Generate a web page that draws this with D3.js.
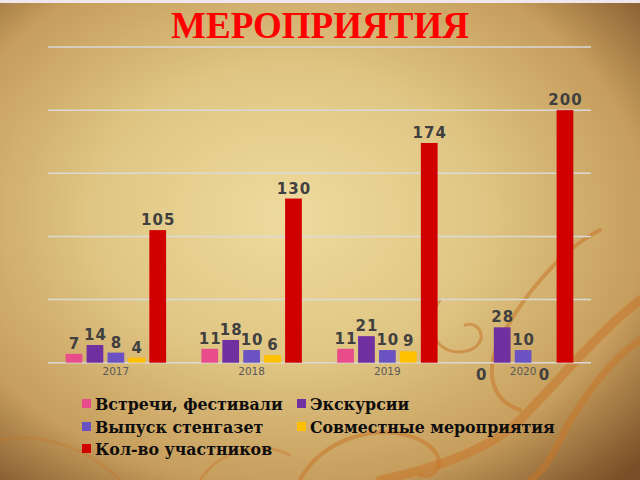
<!DOCTYPE html>
<html><head><meta charset="utf-8">
<script src="https://cdn.jsdelivr.net/npm/d3@7"></script>
<style>html,body{margin:0;padding:0;overflow:hidden;background:#c9a262}</style>
</head><body>
<svg id="c" width="640" height="480"></svg>
<script>
const categories = ["2017", "2018", "2019", "2020"];
const seriesNames = ["Встречи, фестивали", "Экскурсии", "Выпуск стенгазет", "Совместные мероприятия", "Кол-во участников"];
const vstrechi = [7, 11, 11, 0];
const ekskursii = [14, 18, 21, 28];
const stengazety = [8, 10, 10, 10];
const sovmestnye = [4, 6, 9, 0];
const uchastniki = [105, 130, 174, 200];
const yTicks = [0, 50, 100, 150, 200, 250];
const colors = ["#E84C8A", "#7030A0", "#6A52C2", "#FFC000", "#D00000"];
const title = "МЕРОПРИЯТИЯ";

const seriesValues = [vstrechi, ekskursii, stengazety, sovmestnye, uchastniki];
const svg = d3.select("#c");
const defs = svg.append("defs");
const rg = defs.append("radialGradient").attr("id", "bg").attr("cx", "45%").attr("cy", "45%").attr("r", "75%");
rg.append("stop").attr("offset", "0%").attr("stop-color", "#eedb9e");
rg.append("stop").attr("offset", "40%").attr("stop-color", "#e0c684");
rg.append("stop").attr("offset", "75%").attr("stop-color", "#c69d5c");
rg.append("stop").attr("offset", "100%").attr("stop-color", "#7a5028");
svg.append("rect").attr("width", 640).attr("height", 480).attr("fill", "url(#bg)");
svg.append("rect").attr("width", 640).attr("height", 3).attr("fill", "#efe6ee");

const sw = svg.append("g").attr("fill", "none").attr("stroke", "#c7762a").attr("stroke-opacity", 0.55).attr("stroke-linecap", "round");
sw.append("path").attr("d", "M640,300 C600,330 560,380 520,420 C490,450 430,470 380,480").attr("stroke-width", 9);
sw.append("path").attr("d", "M640,340 C610,360 580,400 560,440 C550,460 540,475 530,480").attr("stroke-width", 7);
sw.append("path").attr("d", "M600,230 C560,250 520,300 500,340 C485,370 490,400 520,410").attr("stroke-width", 4);
sw.append("path").attr("d", "M440,300 C420,330 440,360 470,350 C490,342 480,320 465,325").attr("stroke-width", 3);
sw.append("path").attr("d", "M300,480 C320,440 380,420 420,440 C450,455 440,480 420,475").attr("stroke-width", 4);
sw.append("path").attr("d", "M0,440 C40,430 90,450 120,480").attr("stroke-width", 3).attr("stroke-opacity", 0.35);
sw.append("path").attr("d", "M200,480 C220,450 260,440 290,455").attr("stroke-width", 3).attr("stroke-opacity", 0.4);

const plotLeft = 48, plotRight = 591, plotTop = 47, plotBottom = 362.7;
const x0 = d3.scaleBand().domain(categories).range([plotLeft, plotRight]).paddingInner(0.26).paddingOuter(0.13);
const x1 = d3.scaleBand().domain(d3.range(5)).range([0, x0.bandwidth()]).paddingInner(0.2);
const y = d3.scaleLinear().domain([0, 250]).range([plotBottom, plotTop]);

svg.append("g").selectAll("line").data(yTicks).join("line")
  .attr("x1", plotLeft).attr("x2", plotRight).attr("y1", d => y(d)).attr("y2", d => y(d))
  .attr("stroke", "#d9d9d9").attr("stroke-width", 1.5);

svg.append("text").attr("x", 320).attr("y", 38).attr("text-anchor", "middle")
  .attr("font-family", "Liberation Serif, serif").attr("font-weight", "bold").attr("font-size", 37)
  .attr("fill", "#FF0000").text(title);

const data = [];
categories.forEach((c, i) => seriesValues.forEach((vals, s) => data.push({c, s, v: vals[i]})));
svg.append("g").selectAll("rect").data(data).join("rect")
  .attr("x", d => x0(d.c) + x1(d.s)).attr("width", x1.bandwidth())
  .attr("y", d => y(d.v)).attr("height", d => y(0) - y(d.v))
  .attr("fill", d => colors[d.s]);

svg.append("g").selectAll("text").data(data).join("text")
  .attr("x", d => x0(d.c) + x1(d.s) + x1.bandwidth() / 2 + 0.5)
  .attr("y", d => d.v === 0 ? y(0) + 17 : y(d.v) - 5)
  .attr("text-anchor", "middle")
  .attr("font-family", "DejaVu Sans, sans-serif").attr("font-weight", "bold").attr("font-size", 15)
  .attr("letter-spacing", 1)
  .attr("fill", "#404040").text(d => d.v);

svg.append("g").selectAll("text").data(categories).join("text")
  .attr("x", d => x0(d) + x0.bandwidth() / 2).attr("y", 375)
  .attr("text-anchor", "middle")
  .attr("font-family", "DejaVu Sans, sans-serif").attr("font-size", 10.5)
  .attr("fill", "#595959").text(d => d);

const legPos = [[82, 410], [297, 410], [82, 433], [297, 433], [82, 455]];
const lg = svg.append("g").selectAll("g").data(seriesNames).join("g")
  .attr("transform", (d, i) => `translate(${legPos[i][0]},${legPos[i][1]})`);
lg.append("rect").attr("x", 0).attr("y", -11).attr("width", 9).attr("height", 9).attr("fill", (d, i) => colors[i]);
lg.append("text").attr("x", 13).attr("y", 0)
  .attr("font-family", "DejaVu Serif, serif").attr("font-weight", "bold").attr("font-size", 15.8)
  .attr("fill", "#0d0d0d").text(d => d);
</script>
</body></html>
